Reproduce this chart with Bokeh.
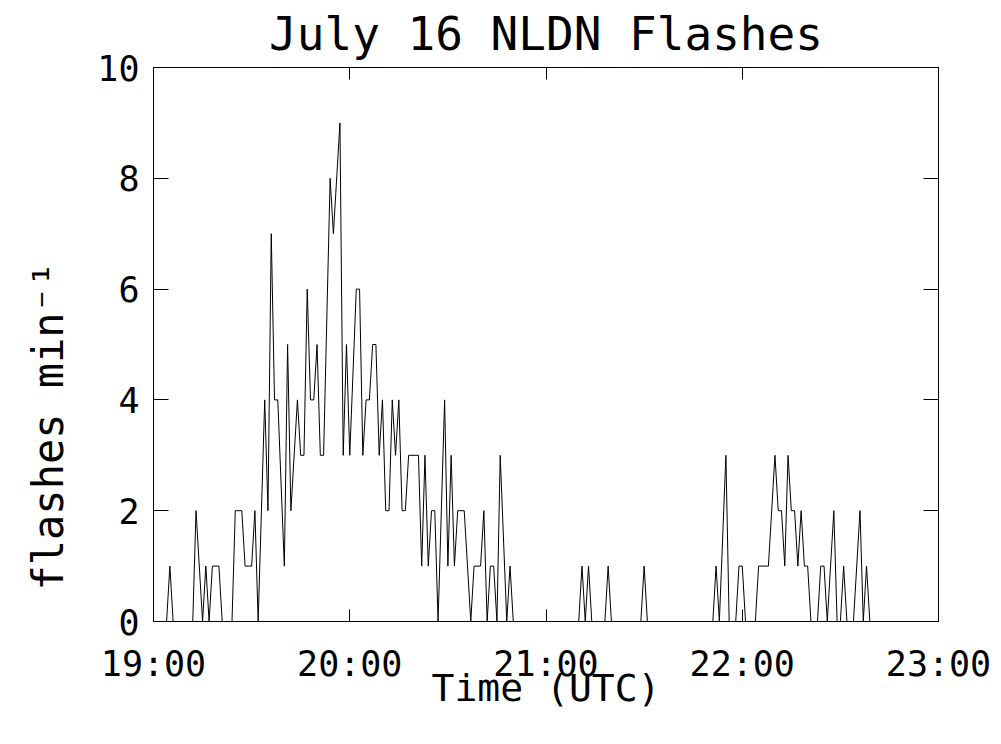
from bokeh.plotting import figure
from bokeh.models import FixedTicker, LinearAxis, Title, Range1d
from bokeh.embed import file_html
from bokeh.resources import INLINE

# minutes after 19:00 UTC (vertices of the trace) and flashes per minute
minutes = [0, 4, 5, 6, 12, 13, 15, 16, 17, 18, 20, 21, 24, 25, 27, 28, 30, 31, 32, 34,
           35, 36, 37, 38, 40, 41, 42, 44, 45, 46, 47, 48, 49, 50, 51, 52, 54, 55, 57, 58,
           59, 60, 62, 63, 64, 65, 66, 67, 68, 69, 70, 71, 72, 73, 74, 75, 76, 77, 78, 81,
           82, 83, 84, 85, 86, 87, 89, 90, 91, 92, 93, 95, 97, 98, 100, 101, 102, 103, 104, 105,
           106, 108, 109, 110, 130, 131, 132, 133, 134, 138, 139, 140, 149, 150, 151, 171, 172, 173, 175, 176,
           178, 179, 180, 181, 184, 185, 188, 190, 191, 192, 193, 194, 195, 196, 197, 198, 199, 200, 201, 203,
           204, 205, 206, 208, 209, 210, 211, 212, 214, 216, 217, 218, 219, 240]
flashes = [0, 0, 1, 0, 0, 2, 0, 1, 0, 1, 1, 0, 0, 2, 2, 1, 1, 2, 0, 4,
           2, 7, 4, 4, 1, 5, 2, 4, 3, 3, 6, 4, 4, 5, 3, 3, 8, 7, 9, 3,
           5, 3, 6, 6, 3, 4, 4, 5, 5, 3, 4, 2, 2, 4, 3, 4, 2, 2, 3, 3,
           1, 3, 1, 2, 2, 0, 4, 1, 3, 1, 2, 2, 0, 1, 1, 2, 0, 1, 1, 0,
           3, 0, 1, 0, 0, 1, 0, 1, 0, 0, 1, 0, 0, 1, 0, 0, 1, 0, 3, 0,
           0, 1, 1, 0, 0, 1, 1, 3, 2, 2, 1, 3, 2, 2, 1, 2, 1, 1, 0, 0,
           1, 1, 0, 2, 0, 0, 1, 0, 0, 2, 0, 1, 0, 0]

x_ticks = [0, 60, 120, 180, 240]
x_tick_labels = ["19:00", "20:00", "21:00", "22:00", "23:00"]
y_ticks = [0, 2, 4, 6, 8, 10]

title_text = "July 16 NLDN Flashes"
x_title = "Time (UTC)"
y_title = "flashes min\u207b\u00b9"

FONT = "DejaVu Sans Mono"

p = figure(width=1001, height=744, x_range=Range1d(0, 240), y_range=Range1d(0, 10),
           output_backend="svg", toolbar_location=None,
           min_border_left=153, min_border_right=63, min_border_top=67, min_border_bottom=123)

p.line(minutes, flashes, line_color="black", line_width=1)

p.xgrid.visible = False
p.ygrid.visible = False
p.outline_line_color = "black"
p.outline_line_width = 1
p.background_fill_color = "white"
p.border_fill_color = "white"

def style(ax, ticks, tick_in, show_labels, standoff):
    ax.ticker = FixedTicker(ticks=ticks, minor_ticks=[])
    ax.major_tick_in = tick_in
    ax.major_tick_out = 0
    ax.minor_tick_in = 0
    ax.minor_tick_out = 0
    ax.axis_line_color = "black"
    ax.major_tick_line_color = "black"
    ax.major_label_text_font = FONT
    ax.major_label_text_font_size = "35px"
    ax.major_label_text_color = "black" if show_labels else None
    ax.major_label_standoff = standoff

xa = p.xaxis[0]
style(xa, x_ticks, 12, True, 22)
xa.major_label_overrides = {t: l for t, l in zip(x_ticks, x_tick_labels)}
xa.axis_label = x_title
xa.axis_label_text_font = FONT
xa.axis_label_text_font_size = "38px"
xa.axis_label_text_font_style = "normal"
xa.axis_label_text_color = "black"
xa.axis_label_standoff = -21

ya = p.yaxis[0]
style(ya, y_ticks, 15, True, 14)

top = LinearAxis()
style(top, x_ticks, 12, False, 0)
top.major_label_text_font_size = "1px"
p.add_layout(top, "above")

right = LinearAxis()
style(right, y_ticks, 15, False, 0)
right.major_label_text_font_size = "1px"
p.add_layout(right, "right")

p.title.text = title_text
p.title.align = "center"
p.title.vertical_align = "top"
p.title.text_line_height = 0.85
p.title.text_font = FONT
p.title.text_font_size = "46px"
p.title.text_font_style = "normal"
p.title.text_color = "black"
p.title.standoff = 9

p.add_layout(Title(text=y_title, align="left", offset=31, standoff=43,
                   text_font=FONT, text_font_size="42px", text_font_style="normal",
                   text_color="black"), "left")

open("out.html", "w").write(file_html(p, INLINE))
